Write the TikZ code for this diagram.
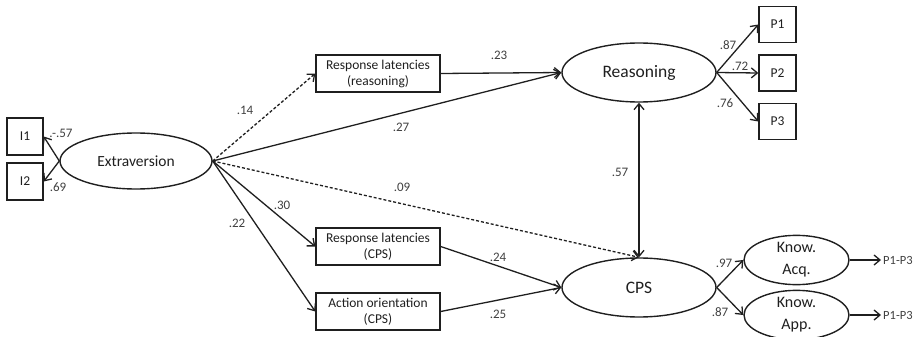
\documentclass[tikz,border=0pt]{standalone}
\usepackage{fontspec}
\setmainfont{Carlito}
\usetikzlibrary{arrows.meta,shapes.geometric}
\definecolor{lab}{HTML}{404040}
\definecolor{ln}{HTML}{1f1f1f}
\tikzset{
  box/.style={draw=ln,line width=1.4pt,rectangle,inner sep=0pt,align=center,text=ln,font=\fontsize{13.5}{16}\selectfont},
  lat/.style={draw=ln,line width=1.4pt,ellipse,inner sep=0pt,align=center,text=ln},
  arr/.style={draw=ln,line width=1.3pt,-{Straight Barb[length=6pt,width=10pt,line width=1.3pt]}},
  darr/.style={arr,dash pattern=on 3pt off 2pt},
  lbl/.style={text=lab,font=\fontsize{13}{15}\selectfont,inner sep=0pt},
  plain/.style={inner sep=2pt,font=\fontsize{12.5}{14}\selectfont,text=lab}
}
\begin{document}
\begin{tikzpicture}[x=1pt,y=-1pt]
\useasboundingbox (0,0) rectangle (914,337);
% observed boxes
\node[box,minimum width=36pt,minimum height=37pt] (I1) at (25,136.5) {I1};
\node[box,minimum width=36pt,minimum height=37pt] (I2) at (25,181.5) {I2};
\node[box,minimum width=37pt,minimum height=36pt] (P1) at (777.5,24.5) {P1};
\node[box,minimum width=37pt,minimum height=36pt] (P2) at (777.5,73) {P2};
\node[box,minimum width=37pt,minimum height=36pt] (P3) at (777.5,121.5) {P3};
\node[box,minimum width=124pt,minimum height=37pt] (RLR) at (378,73.5) {Response latencies\\(reasoning)};
\node[box,minimum width=124pt,minimum height=37pt] (RLC) at (378,246.5) {Response latencies\\(CPS)};
\node[box,minimum width=124pt,minimum height=37pt] (AO) at (378,311.5) {Action orientation\\(CPS)};
% latent
\node[lat,minimum width=152pt,minimum height=56pt,font=\fontsize{15.5}{18}\selectfont] (EX) at (136,161) {Extraversion};
\node[lat,minimum width=154pt,minimum height=59pt,font=\fontsize{17.5}{20}\selectfont] (RE) at (639,72.5) {Reasoning};
\node[lat,minimum width=154pt,minimum height=59pt,font=\fontsize{17.5}{20}\selectfont] (CPS) at (639,287.5) {CPS};
\node[lat,minimum width=105pt,minimum height=40pt,font=\fontsize{16}{22}\selectfont] (KA) at (796.5,260) {Know.\\Acq.};
\node[lat,minimum width=105pt,minimum height=40pt,font=\fontsize{16}{22}\selectfont] (KP) at (796.5,315) {Know.\\App.};
\node[plain,anchor=west] (T1) at (881,260) {P1-P3};
\node[plain,anchor=west] (T2) at (881,315) {P1-P3};
% connectors
\draw[arr] (EX.west) -- (I1.east);
\draw[arr] (EX.west) -- (I2.east);
\draw[darr] (EX.east) -- (RLR.west);
\draw[arr] (EX.east) -- (RE.west);
\draw[arr] (RLR.east) -- (RE.west);
\draw[darr] (EX.east) -- (CPS.north);
\draw[arr] (EX.east) -- (RLC.west);
\draw[arr] (EX.east) -- (AO.west);
\draw[arr] (RLC.east) -- (CPS.west);
\draw[arr] (AO.east) -- (CPS.west);
\draw[arr,{Straight Barb[length=6pt,width=10pt,line width=1.3pt]}-{Straight Barb[length=6pt,width=10pt,line width=1.3pt]}] (RE.south) -- (CPS.north);
\draw[arr] (RE.east) -- (P1.west);
\draw[arr] (RE.east) -- (P2.west);
\draw[arr] (RE.east) -- (P3.west);
\draw[arr] (CPS.east) -- (KA.west);
\draw[arr] (CPS.east) -- (KP.west);
\draw[arr] (KA.east) -- (T1.west);
\draw[arr] (KP.east) -- (T2.west);
% labels
\node[lbl] (l1) at (61,133) {.-.57};
\node[lbl] (l2) at (58,187) {.69};
\node[lbl] (l3) at (245,110) {.14};
\node[lbl] (l4) at (401,127) {.27};
\node[lbl] (l5) at (499,55) {.23};
\node[lbl] (l6) at (402,187) {.09};
\node[lbl] (l7) at (282,205) {.30};
\node[lbl] (l8) at (237,223) {.22};
\node[lbl] (l9) at (498,257) {.24};
\node[lbl] (l10) at (498,314) {.25};
\node[lbl] (l11) at (620,172) {.57};
\node[lbl] (l12) at (728,45) {.87};
\node[lbl] (l13) at (740,66) {.72};
\node[lbl] (l14) at (725,103) {.76};
\node[lbl] (l15) at (724,263) {.97};
\node[lbl] (l16) at (720,312) {.87};
\end{tikzpicture}
\end{document}
